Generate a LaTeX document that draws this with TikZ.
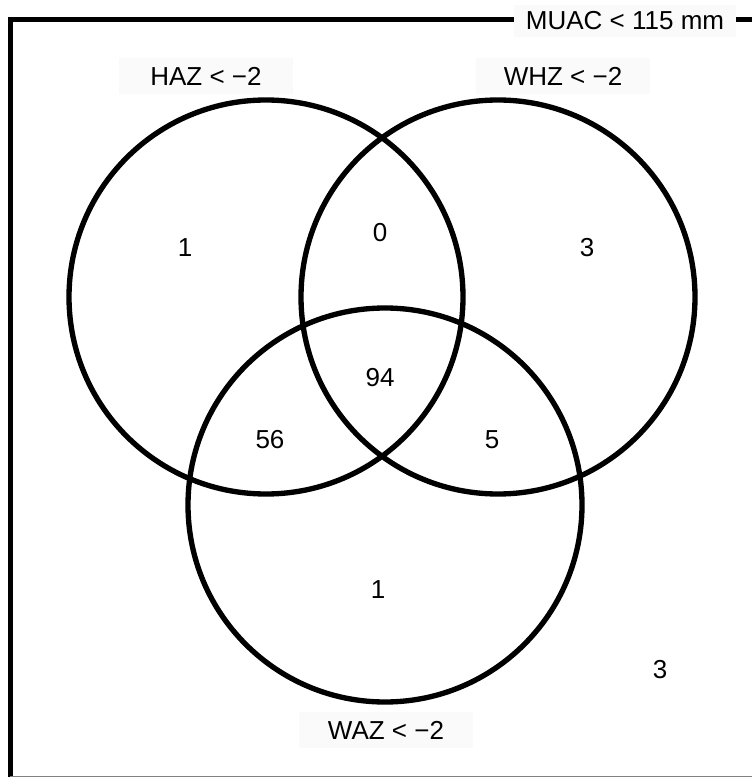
\documentclass[tikz,border=0pt]{standalone}
\usepackage{fontspec}
\setmainfont{Liberation Sans}
\usepackage{xcolor}
\usetikzlibrary{positioning}
\definecolor{VN_BOX}{HTML}{FAFAFA}
\definecolor{VN_EDGE}{HTML}{808080}
\tikzset{
  setcirc/.style={
    circle, draw=black, line width=4pt,
    minimum size=295.5pt, inner sep=0pt},
  setlbl/.style={
    rectangle, fill=VN_BOX, inner xsep=8pt,
    minimum width=130pt, minimum height=27pt,
    text centered, font=\fontsize{19.5}{22}\selectfont},
  cnt/.style={font=\fontsize{19.5}{22}\selectfont},
  frm/.style={line width=3.8pt, color=black},
}

\begin{document}
\begin{tikzpicture}[x=0.75pt, y=-0.75pt]
  \useasboundingbox (0,0) rectangle (752,777);

  % outer set: MUAC
  \coordinate (fbl) at (10.5,777);
  \coordinate (ftl) at (10.5,19.5);
  \coordinate (ftr) at (752,19.5);
  \draw[frm] (fbl) -- (ftl) -- (ftr);
  \draw[VN_EDGE, line width=1pt] (10,776.5) -- (752,776.5);
  \node[setlbl, minimum width=166pt, minimum height=24pt] (muac) at (625,21)
    {MUAC < 115 mm};

  % the three sets
  \node[setcirc] (haz) at (266,297) {};
  \node[setcirc] (whz) at (498,297) {};
  \node[setcirc] (waz) at (385,505) {};

  \node[setlbl] (hazl) at (206,76) {HAZ < −2};
  \node[setlbl] (whzl) at (563,76) {WHZ < −2};
  \node[setlbl] (wazl) at (386,730) {WAZ < −2};

  % counts
  \node[cnt] (nh)   at (185,248) {1};
  \node[cnt] (nhw)  at (380,233) {0};
  \node[cnt] (nw)   at (587,248) {3};
  \node[cnt] (nall) at (380,378) {94};
  \node[cnt] (nha)  at (270,440) {56};
  \node[cnt] (nwa)  at (492,440) {5};
  \node[cnt] (na)   at (378,590) {1};
  \node[cnt] (nout) at (660,670) {3};
\end{tikzpicture}
\end{document}
